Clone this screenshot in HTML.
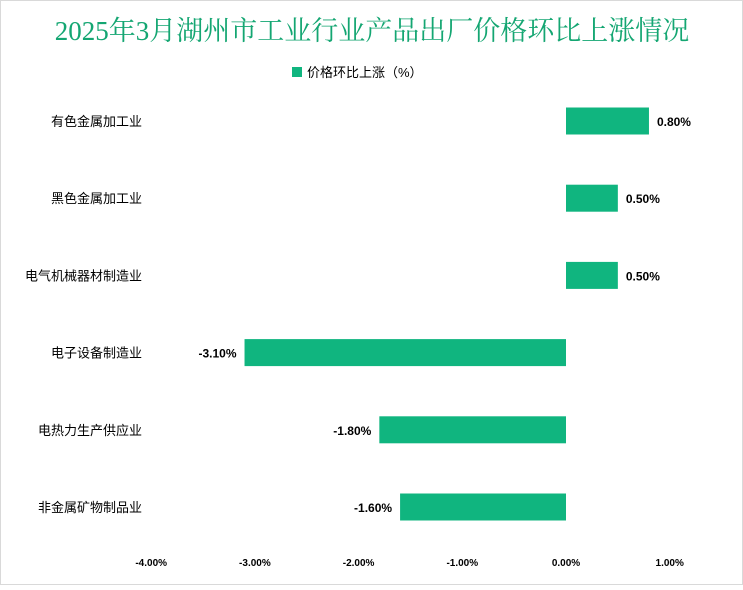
<!DOCTYPE html>
<html><head><meta charset="utf-8"><style>
body{margin:0;background:#fff;}
#c{position:relative;width:743px;height:585px;}
</style></head><body>
<div id="c">
<svg id="s" width="743" height="585" xmlns="http://www.w3.org/2000/svg">
<rect x="0.5" y="0.5" width="742" height="584" fill="#fff" stroke="#d9d9d9"/>
<text x="372" y="40" text-anchor="middle" font-family="'Liberation Serif','Noto Serif CJK SC',serif" font-size="27" fill="#14a672">2025年3月湖州市工业行业产品出厂价格环比上涨情况</text>
<rect x="292" y="67" width="10" height="10" fill="#10b57f"/>
<text x="307" y="77" font-family="'Liberation Sans','Noto Sans CJK SC',sans-serif" font-size="13" fill="#000">价格环比上涨（%）</text>
<g id="bars"></g>
<g id="xt"></g>
</svg>
</div>
<script>
const categories=["有色金属加工业","黑色金属加工业","电气机械器材制造业","电子设备制造业","电热力生产供应业","非金属矿物制品业"];
const values=[0.8,0.5,0.5,-3.1,-1.8,-1.6];
const valueLabels=["0.80%","0.50%","0.50%","-3.10%","-1.80%","-1.60%"];
const ticks=[-4,-3,-2,-1,0,1];
const tickLabels=["-4.00%","-3.00%","-2.00%","-1.00%","0.00%","1.00%"];
const NS="http://www.w3.org/2000/svg";
const x=v=>566+v*103.7;
const y=i=>121+i*77.2;
const F="'Liberation Sans','Noto Sans CJK SC',sans-serif";
const bars=document.getElementById('bars'),xt=document.getElementById('xt');
function mk(t,a,p){const e=document.createElementNS(NS,t);for(const k in a)e.setAttribute(k,a[k]);p.appendChild(e);return e;}
categories.forEach((c,i)=>{
 const v=values[i],x0=Math.min(x(0),x(v)),w=Math.abs(x(v)-x(0));
 const r=mk('rect',{x:x0,y:y(i)-13.5,width:w,height:27,fill:'#10b57f'},bars);
 
 
 const l=mk('text',{x:142,y:y(i)+5,'text-anchor':'end','font-family':F,'font-size':13,fill:'#000'},bars);
 l.textContent=c;
 
 
 const vl=mk('text',{x:v>=0?x(v)+8:x(v)-8,y:y(i)+5,'text-anchor':v>=0?'start':'end','font-family':F,'font-size':12,'font-weight':'bold',fill:'#000'},bars);
 vl.textContent=valueLabels[i];
 
 
});
ticks.forEach((t,i)=>{
 const e=mk('text',{x:x(t),y:566,'text-anchor':'middle','font-family':F,'font-size':10,'font-weight':'bold',fill:'#000'},xt);
 e.textContent=tickLabels[i];
 
 
});
</script>
</body></html>
